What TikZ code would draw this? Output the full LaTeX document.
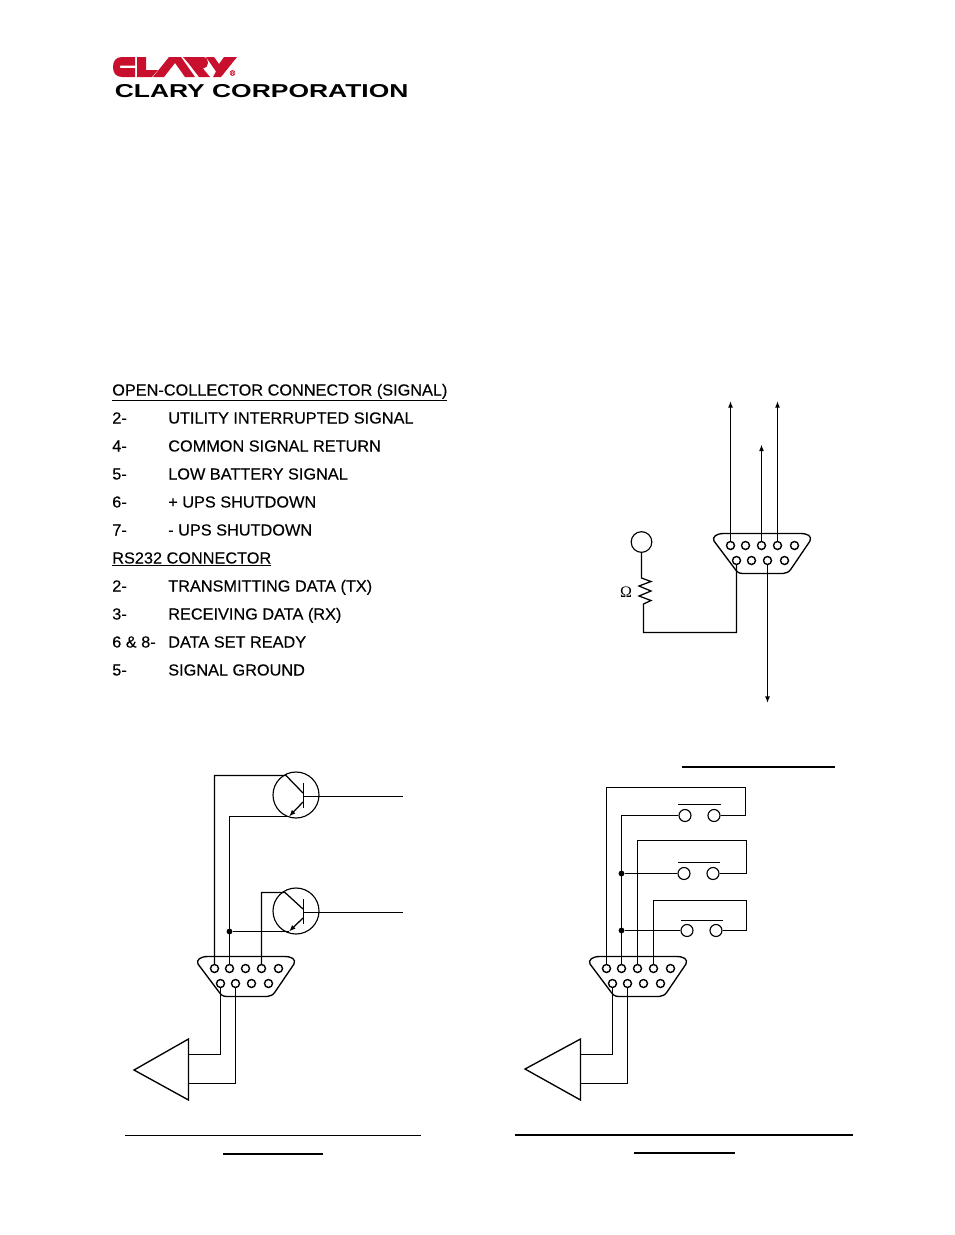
\documentclass[tikz,border=0pt]{standalone}
\usepackage{fontspec}
\setmainfont[FakeBold=0.25,FakeStretch=1.018]{Liberation Sans}
\newfontfamily\serifom{Liberation Serif}
\newfontfamily\corpfont[FakeStretch=1.416,UprightFont={* Bold}]{Liberation Sans}
\usetikzlibrary{arrows.meta}
\tikzset{
 wire/.style={line width=0.95pt,line join=miter},
 rule/.style={line width=1.5pt},
 thinrule/.style={line width=0.8pt},
 pin/.style={circle,draw,line width=1.05pt,fill=white,minimum size=6pt,inner sep=0pt},
 contact/.style={circle,draw,line width=0.85pt,fill=white,minimum size=9pt,inner sep=0pt},
 tcirc/.style={circle,draw,line width=0.85pt,minimum size=34.5pt,inner sep=0pt},
 dot/.style={circle,fill=black,minimum size=4.4pt,inner sep=0pt},
 txt/.style={anchor=base west,inner sep=0pt,font=\fontsize{12}{14}\selectfont},
 tip/.style={-{Latex[length=5pt,width=3.8pt]}},
}
\definecolor{claryred}{HTML}{C8102E}
% connector: prefix, x offset, y offset (px)
\newcommand{\dbnine}[3]{%
 \begin{scope}[shift={(#2,#3)}]
 \draw[line width=1pt] (724,533.5) -- (800,533.5) .. controls (808,533.5) and (812,536) .. (810,541)
   -- (791,569) .. controls (789,572) and (786,573.5) .. (783,573.5) -- (743,573.5)
   .. controls (739,573.5) and (737,572) .. (735,569) -- (714,541)
   .. controls (712,537) and (716,533.5) .. (724,533.5) -- cycle;
 \end{scope}}
\newcommand{\dbpins}[3]{%
 \node[pin] (#1a) at (730.5+#2,545.5+#3) {};
 \node[pin] (#1b) at (745.5+#2,545.5+#3) {};
 \node[pin] (#1c) at (761.5+#2,545.5+#3) {};
 \node[pin] (#1d) at (777.5+#2,545.5+#3) {};
 \node[pin] (#1e) at (794.5+#2,545.5+#3) {};
 \node[pin] (#1f) at (736.5+#2,560.5+#3) {};
 \node[pin] (#1g) at (751.5+#2,560.5+#3) {};
 \node[pin] (#1h) at (767.5+#2,560.5+#3) {};
 \node[pin] (#1i) at (784.5+#2,560.5+#3) {};}
\begin{document}
\begin{tikzpicture}[x=0.75pt,y=-0.75pt]
\useasboundingbox (0,0) rectangle (954,1235);
% logo
\fill[claryred] (135,57) -- (122,57) .. controls (116,57) and (113,61) .. (113,67) .. controls (113,73) and (116,77) .. (122,77) -- (135,77) -- (135,68.2) -- (120,68.2) -- (120,65.5) -- (135,65.5) -- cycle;
\fill[claryred] (137,57) -- (146,57) -- (146,70) -- (158,70) -- (152,77) -- (137,77) -- cycle;
\fill[claryred] (153,77) -- (169,57) -- (181,57) -- (195,77) -- (185,77) -- (175,63) -- (164,77) -- cycle;
\fill[claryred] (183,57) -- (203,57) .. controls (207,57) and (208,60) .. (208,63) .. controls (208,66) and (206,68) .. (203,68.5) -- (210,77) -- (199,77) -- (189,64) -- cycle;
\fill[claryred] (206,57) -- (214,57) -- (219,64) -- (224,57) -- (237,57) -- (221,77) -- (213,77) -- (216,71.5) -- cycle;
\node[anchor=center,inner sep=0pt,text=claryred,font=\fontsize{5.5}{5.5}\selectfont] (reg) at (232.5,73) {®};
\node[anchor=base west,inner sep=0pt,font=\corpfont\fontsize{14}{14}\selectfont] (corp) at (114.5,97) {CLARY CORPORATION};
% text
\node[txt] (h1) at (112,395.5) {\underline{OPEN-COLLECTOR CONNECTOR (SIGNAL)}};
\node[txt] (n2) at (112,423.5) {2-};\node[txt] (t2) at (168,423.5) {UTILITY INTERRUPTED SIGNAL};
\node[txt] (n4) at (112,451.5) {4-};\node[txt] (t4) at (168,451.5) {COMMON SIGNAL RETURN};
\node[txt] (n5) at (112,479.5) {5-};\node[txt] (t5) at (168,479.5) {LOW BATTERY SIGNAL};
\node[txt] (n6) at (112,507.5) {6-};\node[txt] (t6) at (168,507.5) {+ UPS SHUTDOWN};
\node[txt] (n7) at (112,535.5) {7-};\node[txt] (t7) at (168,535.5) {- UPS SHUTDOWN};
\node[txt] (h2) at (112,563.5) {\underline{RS232 CONNECTOR}};
\node[txt] (r2) at (112,591.5) {2-};\node[txt] (u2) at (168,591.5) {TRANSMITTING DATA (TX)};
\node[txt] (r3) at (112,619.5) {3-};\node[txt] (u3) at (168,619.5) {RECEIVING DATA (RX)};
\node[txt] (r6) at (112,647.5) {6 \& 8-};\node[txt] (u6) at (168,647.5) {DATA SET READY};
\node[txt] (r5) at (112,675.5) {5-};\node[txt] (u5) at (168,675.5) {SIGNAL GROUND};
% top right schematic
\coordinate (ua) at (730.5,401);\coordinate (uc) at (761.5,444.5);\coordinate (ud) at (777.5,401);\coordinate (dh) at (767.5,703);
\dbnine{A}{0}{0}
\dbpins{A}{0}{0}
\draw[wire,tip] (Aa.north) -- (ua);
\draw[wire,tip] (Ac.north) -- (uc);
\draw[wire,tip] (Ad.north) -- (ud);
\draw[wire,tip] (Ah.south) -- (dh);
\node[circle,draw,line width=0.85pt,minimum size=15.5pt,inner sep=0pt] (src) at (641.5,542) {};
\coordinate (rt) at (641.5,578);
\coordinate (rb) at (643.5,607);
\draw[wire] (src.south) -- (rt) -- (651,581.5) -- (639,586) -- (651,591) -- (639,596) -- (651,600.5) -- (643.5,604) -- (rb) |- (Af.south |- 0,632.5) -- (Af.south);
\node[inner sep=0pt,font=\serifom\fontsize{12}{12}\selectfont] (om) at (626,592) {Ω};
% lower left
\node[tcirc] (T1) at (296,795) {};
\node[tcirc] (T2) at (296,911) {};
\dbnine{B}{-516}{423}
\dbpins{B}{-516}{423}
\coordinate (c1) at (286,775.5);\coordinate (e1) at (289,816.5);
\coordinate (c2) at (285,892.5);\coordinate (e2) at (289,931.5);
\coordinate (s1) at (403,796.5);\coordinate (s2) at (403,912.5);
\draw[wire] (Ba.north) |- (c1) -- (303,793);
\draw[wire] (Bb.north) |- (e1);
\draw[wire,tip] (303,802) -- (e1);
\draw[wire] (Bd.north) |- (c2) -- (303,909);
\draw[wire,tip] (303,918) -- (e2);
\node[dot] (J1) at (229.5,931.5) {};
\draw[wire] (J1) -- (e2);
\draw[line width=1.1pt] (303.5,783) -- (303.5,808);
\draw[line width=1.1pt] (303.5,899) -- (303.5,924);
\draw[wire] (303,796.5) -- (s1);
\draw[wire] (303,912.5) -- (s2);
\coordinate (bt) at (188.5,1054.5);\coordinate (bu) at (188.5,1083.5);
\draw[line width=1pt,line join=miter] (134,1070) -- (188.5,1039) -- (188.5,1100) -- cycle;
\draw[wire] (Bf.south) |- (bt);
\draw[wire] (Bg.south) |- (bu);
% lower right
\dbnine{C}{-124}{423}
\dbpins{C}{-124}{423}
\node[contact] (S1a) at (685,815.5) {};\node[contact] (S1b) at (714,815.5) {};
\node[contact] (S2a) at (684,873.5) {};\node[contact] (S2b) at (713,873.5) {};
\node[contact] (S3a) at (687,930.5) {};\node[contact] (S3b) at (716,930.5) {};
\draw[wire] (678,804.5) -- (721,804.5);
\draw[wire] (678,862.5) -- (720,862.5);
\draw[wire] (681,920.5) -- (723,920.5);
\coordinate (k1) at (745.5,787.5);\coordinate (k2) at (746.5,840.5);\coordinate (k3) at (746.5,900.5);
\draw[wire] (Ca.north) |- (k1) |- (S1b.east);
\draw[wire] (Cb.north) |- (S1a.west);
\draw[wire] (Cc.north) |- (k2) |- (S2b.east);
\draw[wire] (Cd.north) |- (k3) |- (S3b.east);
\node[dot] (J2) at (621.5,873.5) {};
\node[dot] (J3) at (621.5,930.5) {};
\draw[wire] (J2) -- (S2a.west);
\draw[wire] (J3) -- (S3a.west);
\coordinate (ct) at (580.5,1054.5);\coordinate (cu) at (580.5,1083.5);
\draw[line width=1pt,line join=miter] (525,1069) -- (580.5,1039) -- (580.5,1100) -- cycle;
\draw[wire] (Cf.south) |- (ct);
\draw[wire] (Cg.south) |- (cu);
% rules
\draw[rule] (682,766.5) -- (835,766.5);
\draw[thinrule] (125,1135.5) -- (421,1135.5);
\draw[rule] (223,1153.5) -- (323,1153.5);
\draw[rule] (515,1135) -- (853,1135);
\draw[rule] (634,1152.5) -- (735,1152.5);
\end{tikzpicture}
\end{document}
